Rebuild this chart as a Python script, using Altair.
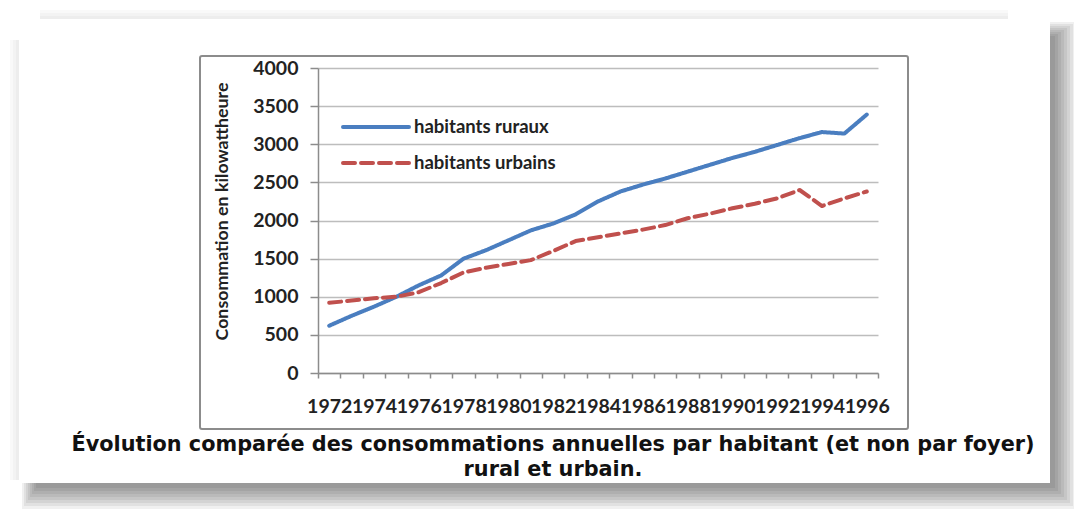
import altair as alt
import pandas as pd

years = list(range(1972, 1997))
rural = [620, 750, 870, 1000, 1150, 1280, 1500, 1610, 1740, 1870, 1960, 2080,
         2250, 2380, 2470, 2550, 2640, 2730, 2820, 2900, 2990, 3080, 3160, 3140, 3390]
urban = [920, 950, 980, 1000, 1060, 1180, 1320, 1380, 1430, 1480, 1600, 1730,
         1780, 1830, 1880, 1940, 2030, 2090, 2160, 2220, 2290, 2400, 2190, 2290, 2380]
series_names = ["habitants ruraux", "habitants urbains"]
series_colors = ["#4a7ec0", "#c0504d"]
series_dash = [[1, 0], [12, 6]]
y_ticks = [0, 500, 1000, 1500, 2000, 2500, 3000, 3500, 4000]
title_lines = ["Évolution comparée des consommations annuelles par habitant (et non par foyer)",
               "rural et urbain."]
y_title = "Consommation en kilowattheure"

rows = []
for y, r, u in zip(years, rural, urban):
    rows.append({"annee": y, "valeur": r, "serie": series_names[0]})
    rows.append({"annee": y, "valeur": u, "serie": series_names[1]})
df = pd.DataFrame(rows)

W, H = 560, 305
one = pd.DataFrame({"k": [0]})

x_tick_values = [years[0] - 0.5 + i for i in range(len(years) + 1)]
step = W / len(years)

lines = alt.Chart(df).mark_line(strokeWidth=4, strokeCap="round", strokeJoin="round").encode(
    x=alt.X("annee:Q",
            scale=alt.Scale(domain=[years[0] - 0.5, years[-1] + 0.5], nice=False, zero=False),
            axis=alt.Axis(values=x_tick_values, title=None, grid=False,
                          labelExpr="((datum.value + 0.5) % 2 == 0) ? '' + (datum.value + 0.5) : ''",
                          labelOffset=step / 2, labelOverlap=False, labelFlush=False, labelBound=False,
                          tickSize=5, tickColor="#8c8c8c", tickWidth=1.5,
                          domainColor="#8c8c8c", domainWidth=1.5,
                          labelPadding=19, labelFont="Lato", labelFontWeight="bold",
                          labelFontSize=19.5, labelColor="#222222")),
    y=alt.Y("valeur:Q",
            scale=alt.Scale(domain=[0, 4000], nice=False),
            axis=alt.Axis(values=y_ticks, title=y_title, grid=True, format="d",
                          gridColor="#bdbdbd", gridWidth=1.5,
                          tickSize=8, tickColor="#8c8c8c", tickWidth=1.5,
                          domainColor="#8c8c8c", domainWidth=1.5,
                          labelPadding=12, labelFont="Lato", labelFontWeight="bold",
                          labelFontSize=19.5, labelColor="#222222",
                          titleFont="Lato", titleFontWeight="bold", titleFontSize=17.8,
                          titleColor="#222222", titleX=-96, titleY=143, titleAngle=-90,
                          titleAlign="center", titleBaseline="middle")),
    color=alt.Color("serie:N", scale=alt.Scale(domain=series_names, range=series_colors), legend=None),
    strokeDash=alt.StrokeDash("serie:N", scale=alt.Scale(domain=series_names, range=series_dash),
                              legend=None),
)

layers = []

# shadow: right and bottom strips
for j in range(8):
    e = 26 - 3 * j
    layers.append(alt.Chart(one).mark_rect(color="#000000", opacity=0.06).encode(
        x=alt.value(732), x2=alt.value(732 + e), y=alt.value(-46 + 2 * j), y2=alt.value(415 + e)))
    layers.append(alt.Chart(one).mark_rect(color="#000000", opacity=0.06).encode(
        x=alt.value(-296 + 2 * j), x2=alt.value(732), y=alt.value(415), y2=alt.value(415 + e)))
# faint top and left strips
for j in range(3):
    e = 9 - 3 * j
    layers.append(alt.Chart(one).mark_rect(color="#000000", opacity=0.025).encode(
        x=alt.value(-278), x2=alt.value(690), y=alt.value(-49 - e), y2=alt.value(-49)))
    layers.append(alt.Chart(one).mark_rect(color="#000000", opacity=0.025).encode(
        x=alt.value(-299 - e), x2=alt.value(-299), y=alt.value(-28), y2=alt.value(412)))

# chart box border
layers.append(alt.Chart(one).mark_rect(fill=None, stroke="#8c8c8c", strokeWidth=2, cornerRadius=2).encode(
    x=alt.value(-118), x2=alt.value(590), y=alt.value(-12), y2=alt.value(361)))

layers.append(lines)

# legend (inside the plot, upper left)
for i, (name, col, dash) in enumerate(zip(series_names, series_colors, series_dash)):
    yy = 59 + 36 * i
    layers.append(alt.Chart(one).mark_rule(color=col, strokeWidth=4, strokeDash=dash,
                                           strokeCap="round").encode(
        x=alt.value(25), x2=alt.value(91), y=alt.value(yy)))
    layers.append(alt.Chart(one).mark_text(text=name, font="Lato", fontWeight="bold", fontSize=18.5,
                                           color="#222222", align="left", baseline="middle").encode(
        x=alt.value(96), y=alt.value(yy)))

# caption
for txt, yy in zip(title_lines, [383, 408]):
    layers.append(alt.Chart(one).mark_text(text=txt, font="DejaVu Sans", fontWeight="bold",
                                           fontSize=20.8, color="#111111", align="center",
                                           baseline="alphabetic").encode(
        x=alt.value(235), y=alt.value(yy)))

chart = alt.layer(*layers).properties(
    width=W, height=H,
    autosize=alt.AutoSizeParams(type="none"),
    padding={"left": 310, "top": 60, "right": 196, "bottom": 142},
    background="white",
).configure_view(strokeWidth=0)

chart.save("out.html", embed_options={"renderer": "svg", "actions": False})
